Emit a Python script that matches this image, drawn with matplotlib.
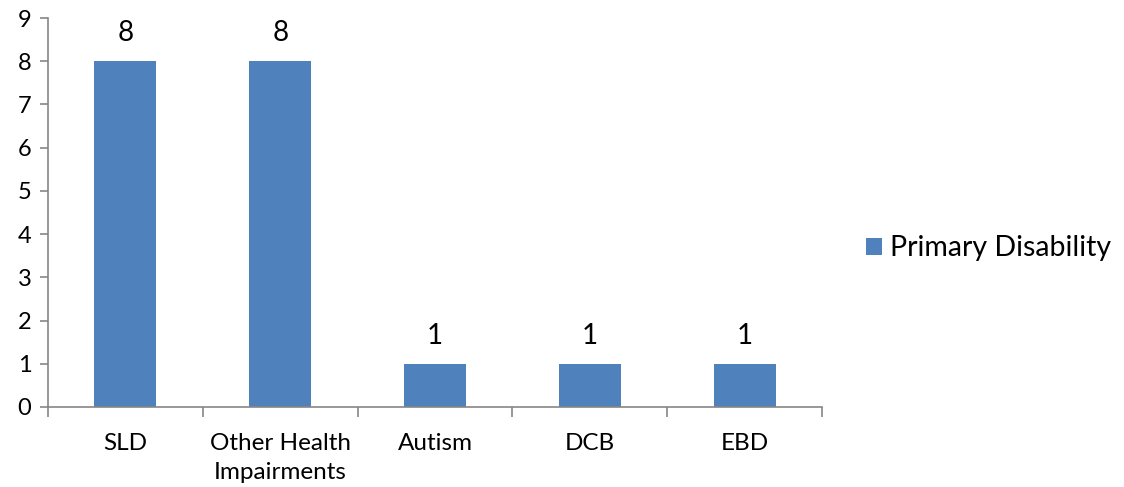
import matplotlib
matplotlib.use("Agg")
import matplotlib.pyplot as plt

categories = ["SLD", "Other Health\nImpairments", "Autism", "DCB", "EBD"]
counts = [8, 8, 1, 1, 1]
series_name = "Primary Disability"
y_ticks = list(range(0, 10))

plt.rcParams["font.family"] = ["Lato", "DejaVu Sans"]

bar_color = "#4F81BD"
axis_color = "#868686"

fig = plt.figure(figsize=(11.24, 4.87), dpi=100)
ax = fig.add_axes([0.0427, 0.1643, 0.6886, 0.7987])

x = list(range(len(categories)))
bars = ax.bar(x, counts, width=0.4, color=bar_color, label=series_name, zorder=2)

for xi, v in zip(x, counts):
    ax.text(xi, v + 0.35, str(v), ha="center", va="bottom", fontsize=20, color="black")

ax.set_xlim(-0.5, len(categories) - 0.5)
ax.set_ylim(0, 9)
ax.set_yticks(y_ticks)
ax.set_yticklabels([str(t) for t in y_ticks], fontsize=17)

# category labels centred between boundary ticks
ax.set_xticks([i - 0.5 for i in range(len(categories) + 1)])
ax.set_xticklabels([])
ax.set_xticks(x, minor=True)
ax.set_xticklabels(categories, minor=True, fontsize=17.5, linespacing=1.45)
ax.tick_params(axis="x", which="minor", length=0, pad=19)
ax.tick_params(axis="x", which="major", length=7, width=1.2, color=axis_color, direction="out")
ax.tick_params(axis="y", length=6, width=1.2, color=axis_color, direction="out", pad=6)

for side in ["top", "right"]:
    ax.spines[side].set_visible(False)
for side in ["left", "bottom"]:
    ax.spines[side].set_color(axis_color)
    ax.spines[side].set_linewidth(1.2)

leg = fig.legend(handles=[bars], labels=[series_name], loc="center left",
                 bbox_to_anchor=(0.7475, 0.49), frameon=False, fontsize=20.5,
                 handlelength=0.56, handleheight=0.56, handletextpad=0.28)

fig.savefig("out.png", dpi=100)
